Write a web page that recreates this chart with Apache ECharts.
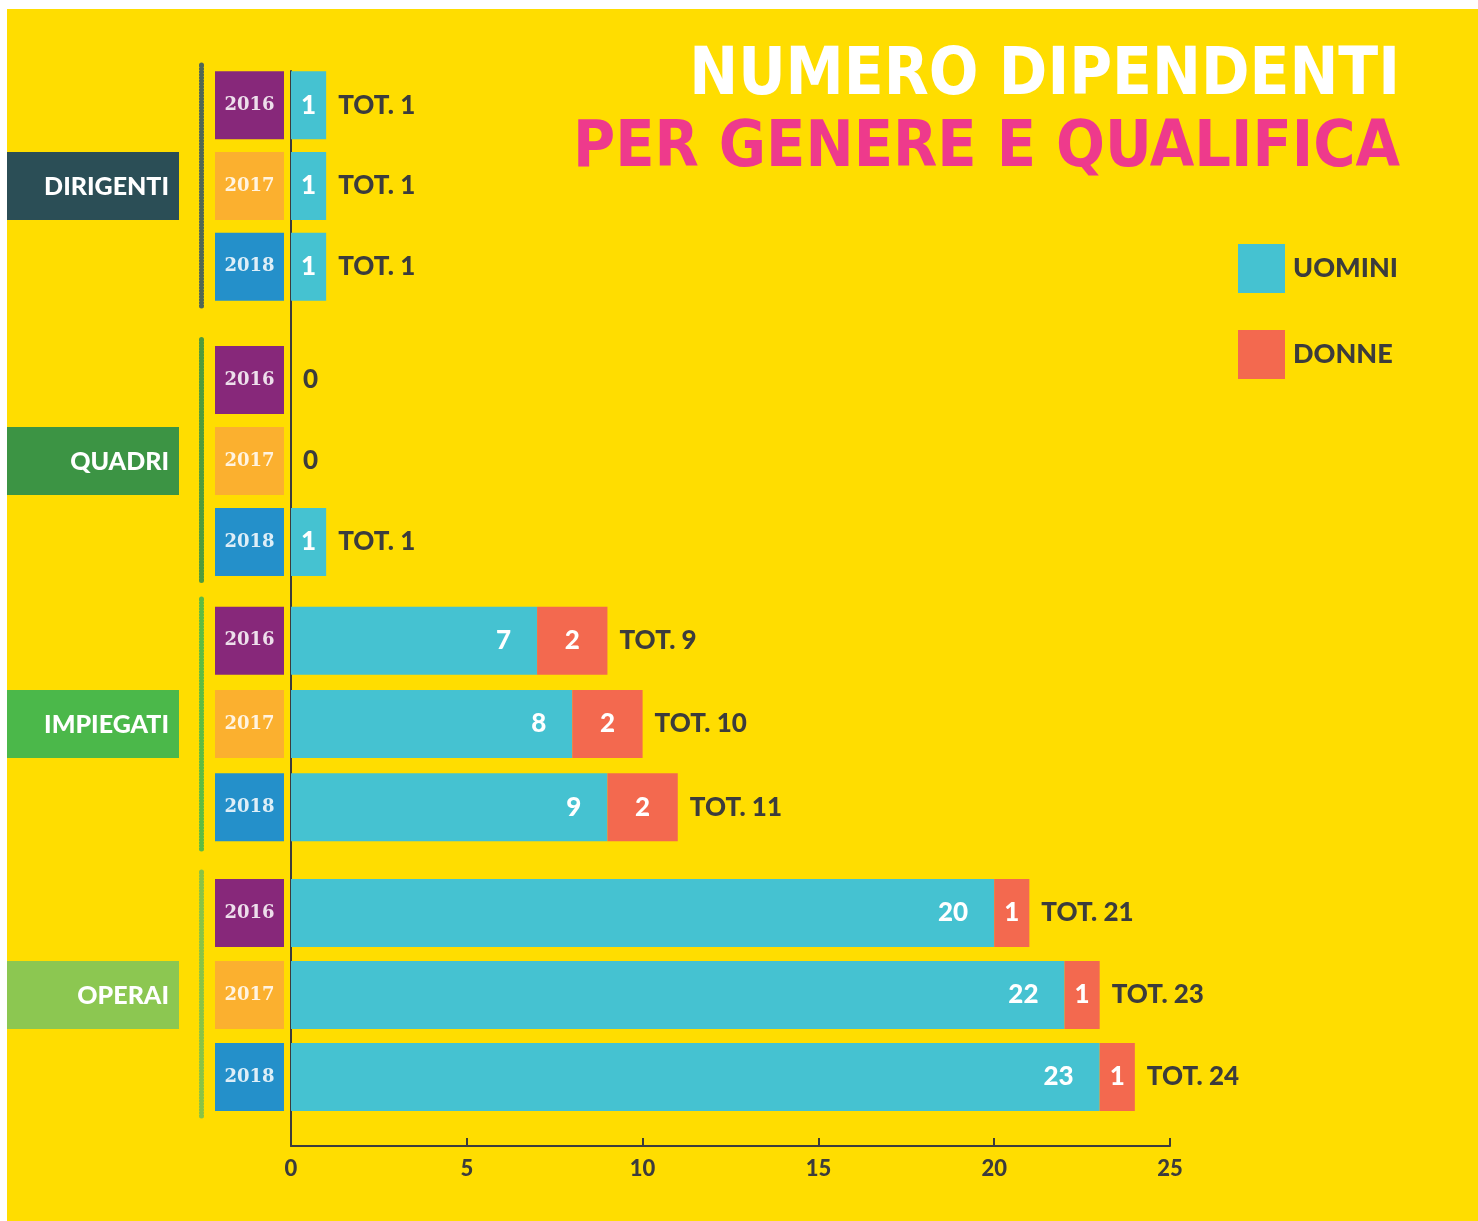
<!DOCTYPE html>
<html>
<head>
<meta charset="utf-8">
<script src="https://cdn.jsdelivr.net/npm/echarts@6/dist/echarts.min.js"></script>
<style>
  html, body { margin: 0; padding: 0; background: #ffffff; }
  #bg { position: absolute; left: 7px; top: 9px; width: 1471px; height: 1212px; background: #FFDD00; }
  #chart { position: absolute; left: 0; top: 0; width: 1478px; height: 1221px; }
</style>
</head>
<body>
<div id="bg"></div>
<div id="chart"></div>
<script>
// ---------- DATA ----------
const groups = ['DIRIGENTI', 'QUADRI', 'IMPIEGATI', 'OPERAI'];
const years = ['2016', '2017', '2018'];
const uomini = [[1, 1, 1], [0, 0, 1], [7, 8, 9], [20, 22, 23]];
const donne = [[0, 0, 0], [0, 0, 0], [2, 2, 2], [1, 1, 1]];
const xMin = 0, xMax = 25, xInterval = 5;
const titleLine1 = 'NUMERO DIPENDENTI';
const titleLine2 = 'PER GENERE E QUALIFICA';

// ---------- STYLE / LAYOUT ----------
const C_UOMINI = '#45C2D1';
const C_DONNE = '#F3694F';
const C_TEXT = '#3C3C3C';
const yearColors = { '2016': '#87287A', '2017': '#FBB02F', '2018': '#2490CA' };
const groupColors = ['#2B4E56', '#3C9444', '#4BB84A', '#8CC751'];
const dotColors = ['#3E5A5E', '#3C9444', '#4BB84A', '#7CC04E'];
const gridLeft = 291, gridRight = 308;
const gridTops = [65, 339.5, 599, 872];
const gridHeights = [242, 243, 250, 246];
const frameTop = 71, frameBottom = 1146;
const FONT = 'Lato, "Open Sans", sans-serif';
const TITLE_FONT = '"DejaVu Sans Condensed", "Liberation Sans Narrow", sans-serif';
const YEAR_FONT = 'bold 18px "DejaVu Serif", serif';

const chart = echarts.init(document.getElementById('chart'), null, { renderer: 'canvas' });

const grids = [], xAxes = [], yAxes = [], series = [], graphics = [];

const yearRich = {};
years.forEach(y => {
  yearRich['y' + y] = {
    backgroundColor: yearColors[y], width: 69, height: 68, lineHeight: 68,
    align: 'center', color: 'rgba(255,255,255,0.85)', fontSize: 18,
    fontWeight: 'bold', fontFamily: 'DejaVu Serif'
  };
});

groups.forEach((g, i) => {
  grids.push({ left: gridLeft, right: gridRight, top: gridTops[i], height: gridHeights[i] });
  xAxes.push({ type: 'value', gridIndex: i, min: xMin, max: xMax, interval: xInterval, show: false });
  // year labels axis
  yAxes.push({
    type: 'category', gridIndex: i, data: years, inverse: true,
    axisLine: { show: false }, axisTick: { show: false },
    axisLabel: {
      margin: 7, formatter: v => '{y' + v + '|' + v + '}', rich: yearRich,
      fontFamily: 'DejaVu Serif', fontWeight: 'bold', fontSize: 18
    }
  });
  // dotted decoration axis
  yAxes.push({
    type: 'category', gridIndex: i, data: years, inverse: true, position: 'left', offset: 90,
    axisLine: { show: true, lineStyle: { color: dotColors[i], width: 5, type: [1, 2], opacity: 0.9 } },
    axisTick: { show: false }, axisLabel: { show: false }
  });
  const yIdx = i * 2;
  series.push({
    name: 'UOMINI', type: 'bar', stack: 'g' + i, xAxisIndex: i, yAxisIndex: yIdx,
    barWidth: 68, itemStyle: { color: C_UOMINI },
    label: {
      show: true, position: 'insideRight', distance: 26, color: '#fff',
      fontSize: 26, fontWeight: 900, fontFamily: FONT,
      formatter: p => (p.value > 0 ? String(p.value) : '')
    },
    data: uomini[i].map(v => (v < 3 ? { value: v, label: { position: 'inside' } } : v))
  });
  series.push({
    name: 'DONNE', type: 'bar', stack: 'g' + i, xAxisIndex: i, yAxisIndex: yIdx,
    barWidth: 68, itemStyle: { color: C_DONNE },
    label: {
      show: true, position: 'inside', color: '#fff',
      fontSize: 26, fontWeight: 900, fontFamily: FONT,
      formatter: p => (p.value > 0 ? String(p.value) : '')
    },
    data: donne[i]
  });
  series.push({
    name: 'TOT', type: 'bar', stack: 'g' + i, xAxisIndex: i, yAxisIndex: yIdx,
    barWidth: 68, itemStyle: { color: 'transparent' }, silent: true,
    label: {
      show: true, position: 'right', distance: 12, color: C_TEXT,
      fontSize: 26, fontWeight: 900, fontFamily: FONT,
      formatter: p => {
        const t = uomini[i][p.dataIndex] + donne[i][p.dataIndex];
        return t > 0 ? 'TOT. ' + t : '0';
      }
    },
    data: years.map(() => 0)
  });
  // group label box
  const cy = gridTops[i] + gridHeights[i] / 2;
  graphics.push({
    type: 'rect', left: 7, top: cy - 34, shape: { width: 172, height: 68 },
    style: { fill: groupColors[i] }, z: 1
  });
  graphics.push({
    type: 'text', x: 169, y: cy + 1, z: 2,
    style: {
      text: g, fill: '#fff', font: '900 25px ' + FONT,
      textAlign: 'right', textVerticalAlign: 'middle'
    }
  });
});

// frame grid carrying the visible axes
const fi = groups.length;
grids.push({ left: gridLeft, right: gridRight, top: frameTop, height: frameBottom - frameTop });
xAxes.push({
  type: 'value', gridIndex: fi, min: xMin, max: xMax, interval: xInterval,
  axisLine: { show: true, lineStyle: { color: C_TEXT, width: 2 } },
  axisTick: { show: true, inside: true, length: 8, lineStyle: { color: C_TEXT, width: 2 } },
  axisLabel: { color: C_TEXT, fontSize: 22, fontWeight: 900, fontFamily: FONT, margin: 12 },
  splitLine: { show: false }
});
yAxes.push({
  type: 'value', gridIndex: fi, min: 0, max: 1,
  axisLine: { show: true, lineStyle: { color: C_TEXT, width: 2 } },
  axisTick: { show: false }, axisLabel: { show: false }, splitLine: { show: false }
});

const option = {
  backgroundColor: 'transparent',
  animation: false,
  title: [
    {
      text: titleLine1, right: 78, top: 45, padding: 0,
      textStyle: { color: '#ffffff', fontSize: 65, fontWeight: 'bold', lineHeight: 65, fontFamily: TITLE_FONT }
    },
    {
      text: titleLine2, right: 78, top: 117, padding: 0,
      textStyle: { color: '#EE3A8C', fontSize: 64, fontWeight: 'bold', lineHeight: 65, fontFamily: TITLE_FONT }
    }
  ],
  legend: {
    data: ['UOMINI', 'DONNE'], orient: 'vertical', left: 1238, top: 244, padding: 0,
    itemWidth: 47, itemHeight: 49, itemGap: 37, icon: 'rect',
    selectedMode: false,
    textStyle: { color: C_TEXT, fontSize: 27, fontWeight: 900, fontFamily: FONT, padding: [0, 0, 0, 3] }
  },
  grid: grids,
  xAxis: xAxes,
  yAxis: yAxes,
  series: series,
  graphic: graphics
};
chart.setOption(option);
</script>
</body>
</html>
